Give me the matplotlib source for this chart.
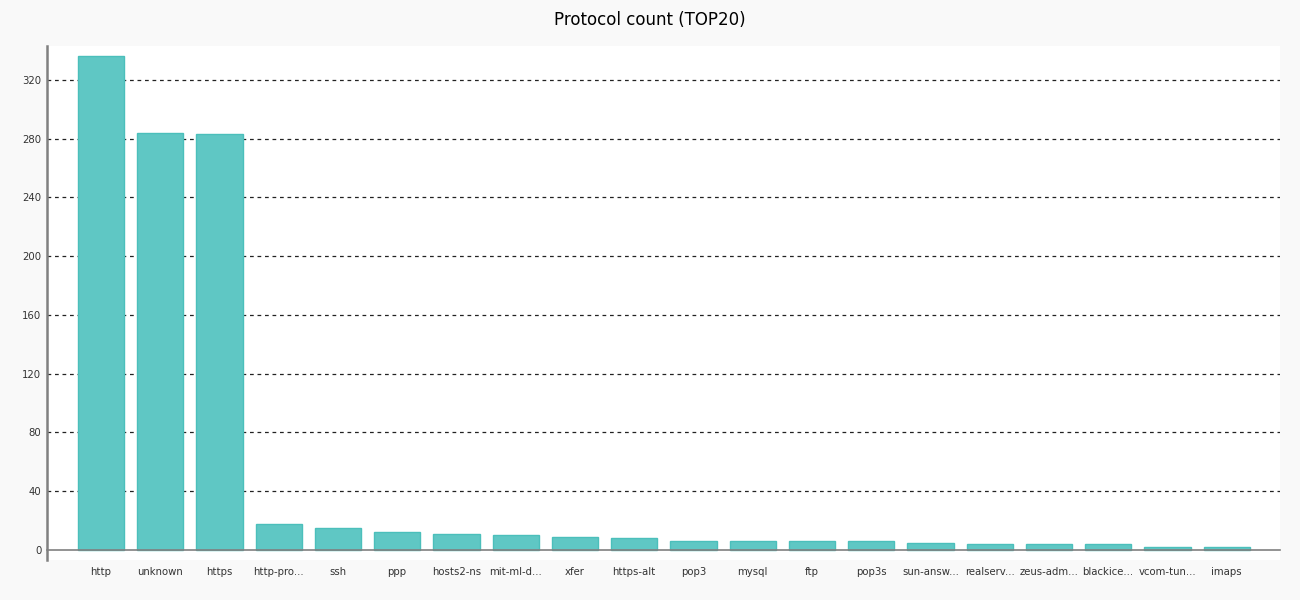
import matplotlib.pyplot as plt

# Protocol counts, top 20
protocols = ['http', 'unknown', 'https', 'http-pro...', 'ssh', 'ppp', 'hosts2-ns',
             'mit-ml-d...', 'xfer', 'https-alt', 'pop3', 'mysql', 'ftp', 'pop3s',
             'sun-answ...', 'realserv...', 'zeus-adm...', 'blackice...', 'vcom-tun...',
             'imaps']
counts = [336, 284, 283, 18, 15, 12, 11, 10, 9, 8, 6, 6, 6, 6, 5, 4, 4, 4, 2, 2]
y_ticks = [0, 40, 80, 120, 160, 200, 240, 280, 320]

fig = plt.figure(figsize=(13, 6), dpi=100, facecolor='#f9f9f9')
ax = fig.add_axes([47 / 1300, 40 / 600, 1233 / 1300, 514 / 600])
ax.set_facecolor('white')

x = list(range(len(protocols)))
ax.bar(x, counts, width=0.78, color='#5fc7c4', edgecolor='#4bbfbb', linewidth=1, zorder=3)

# dashed grid lines, not at zero
for t in y_ticks[1:]:
    ax.axhline(t, color='#222222', linestyle=(0, (3, 3)), linewidth=0.9, zorder=1)

ax.set_xlim(-0.91, 19.9)
ax.set_ylim(-6.8, 343)
ax.set_yticks(y_ticks)
ax.set_xticks(x)
ax.set_xticklabels(protocols)

for s in ['top', 'right']:
    ax.spines[s].set_visible(False)
ax.spines['bottom'].set_position(('data', 0))
ax.spines['bottom'].set_color('#808080')
ax.spines['bottom'].set_linewidth(1.2)
ax.spines['bottom'].set_zorder(4)
ax.spines['left'].set_color('#808080')
ax.spines['left'].set_linewidth(1.8)

ax.tick_params(axis='y', labelsize=7.3, labelcolor='#333333', length=0, pad=4)
ax.tick_params(axis='x', labelsize=7.3, labelcolor='#333333', length=0, pad=12)

fig.text(0.5, 0.967, 'Protocol count (TOP20)', ha='center', va='center', fontsize=12)

plt.savefig('out.png', dpi=100, facecolor=fig.get_facecolor())
